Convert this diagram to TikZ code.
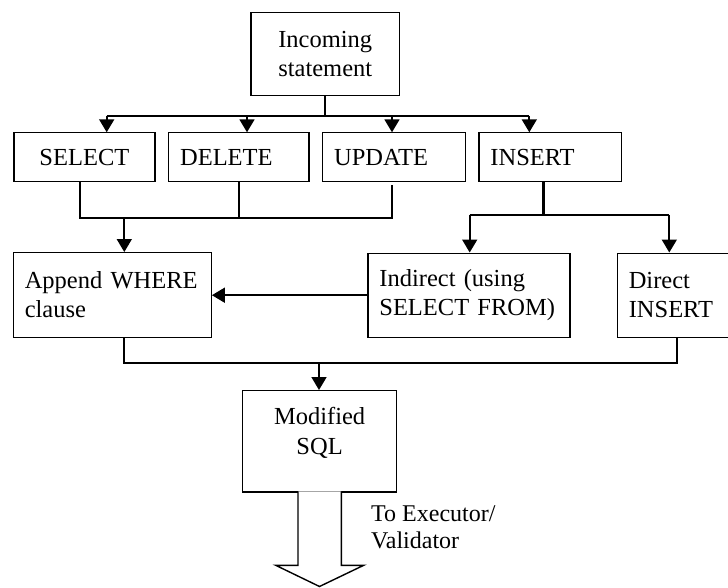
\documentclass[tikz,border=0pt]{standalone}
\usepackage{fontspec}
\setmainfont{Liberation Serif}
\usetikzlibrary{arrows.meta}
\begin{document}
\begin{tikzpicture}[x=1pt,y=-1pt,
  box/.style={draw, line width=1.2pt, rectangle, anchor=north west, inner xsep=11.5pt, inner ysep=0pt, font=\fontsize{24.5}{29}\selectfont},
  txt/.style={inner sep=0pt, align=center, font=\fontsize{24.5}{30}\selectfont},
  conn/.style={line width=1.8pt},
  thickconn/.style={line width=2.6pt},
  arr/.style={conn, -{Triangle[width=15pt,length=13pt]}},
  hollow/.style={draw, line width=1.4pt, fill=white},
  lbl/.style={anchor=north west, inner sep=0pt, align=left, font=\fontsize{24}{27}\selectfont}
]
\useasboundingbox (0,0) rectangle (728,588);

% boxes
\node[box, text width=125.7pt, minimum height=83.3pt, align=center] (inc) at (250.3,12) {Incoming\\statement};
\node[box, text width=118pt, minimum height=48.4pt, align=center] (sel) at (13.3,132.3) {SELECT};
\node[box, text width=117.3pt, minimum height=48.4pt, align=left] (del) at (168,132.3) {DELETE};
\node[box, text width=119.7pt, minimum height=48.4pt, align=left] (upd) at (322,132.3) {UPDATE};
\node[box, text width=119.7pt, minimum height=48.4pt, align=left] (ins) at (478.3,132.3) {INSERT};
\node[box, text width=175pt, minimum height=84.7pt, align=left] (app) at (12.7,252) {Append WHERE\\clause};
\node[box, text width=179pt, minimum height=84.2pt, align=left] (ind) at (367.3,252.5) {Indirect (using\\SELECT FROM)};
\node[box, text width=97pt, minimum height=84.2pt, align=left] (dir) at (616.7,252.5) {Direct\\INSERT};
\node[box, minimum width=154pt, minimum height=101.3pt] (mod) at (242,390) {};
\node[txt] (modtext) at ([yshift=8pt]mod.center) {Modified\\SQL};

% level 1 bus
\coordinate (b1) at (106.7,116);
\coordinate (b2) at (247,116);
\coordinate (b3) at (392,116);
\coordinate (b4) at (529.3,116);
\draw[conn] (inc.south) -- (inc.south |- b1);
\draw[conn] (b1) -- (b4);
\draw[arr] (b1) -- (b1 |- sel.north);
\draw[arr] (b2) -- (b2 |- del.north);
\draw[arr] (b3) -- (b3 |- upd.north);
\draw[arr] (b4) -- (b4 |- ins.north);

% level 2 merge to Append
\coordinate (c1) at (80,217.7);
\coordinate (c2) at (239.3,217.7);
\coordinate (c3) at (392,217.7);
\coordinate (c4) at (124.3,217.7);
\coordinate (c3top) at (392,185);
\draw[conn] (c1 |- sel.south) -- (c1) -- (c3) -- (c3top);
\draw[conn] (c2 |- del.south) -- (c2);
\draw[arr] (c4) -- (c4 |- app.north);

% INSERT split
\coordinate (d0) at (543.3,215);
\coordinate (d1) at (469.7,215);
\coordinate (d2) at (669.3,215);
\draw[thickconn] (d0 |- ins.south) -- (d0);
\draw[conn] (d1) -- (d2);
\draw[arr] (d1) -- (d1 |- ind.north);
\draw[arr] (d2) -- (d2 |- dir.north);

% Indirect to Append
\draw[arr] (ind.west) -- (ind.west -| app.east);

% merge to Modified
\coordinate (e1) at (124.3,362.7);
\coordinate (e2) at (676.7,362.7);
\coordinate (e3) at (319,362.7);
\draw[conn] (e1 |- app.south) -- (e1) -- (e2) -- (e2 |- dir.south);
\draw[arr] (e3) -- (e3 |- mod.north);

% hollow output arrow
\coordinate (tip) at (319.5,586.5);
\draw[hollow] (298,491.3) -- (298,565.3) -- (275.7,565.3) -- (tip) -- (363.7,565.3) -- (341.3,565.3) -- (341.3,491.3);

\node[lbl] (out) at (371,505) {To Executor/\\Validator};
\end{tikzpicture}
\end{document}
